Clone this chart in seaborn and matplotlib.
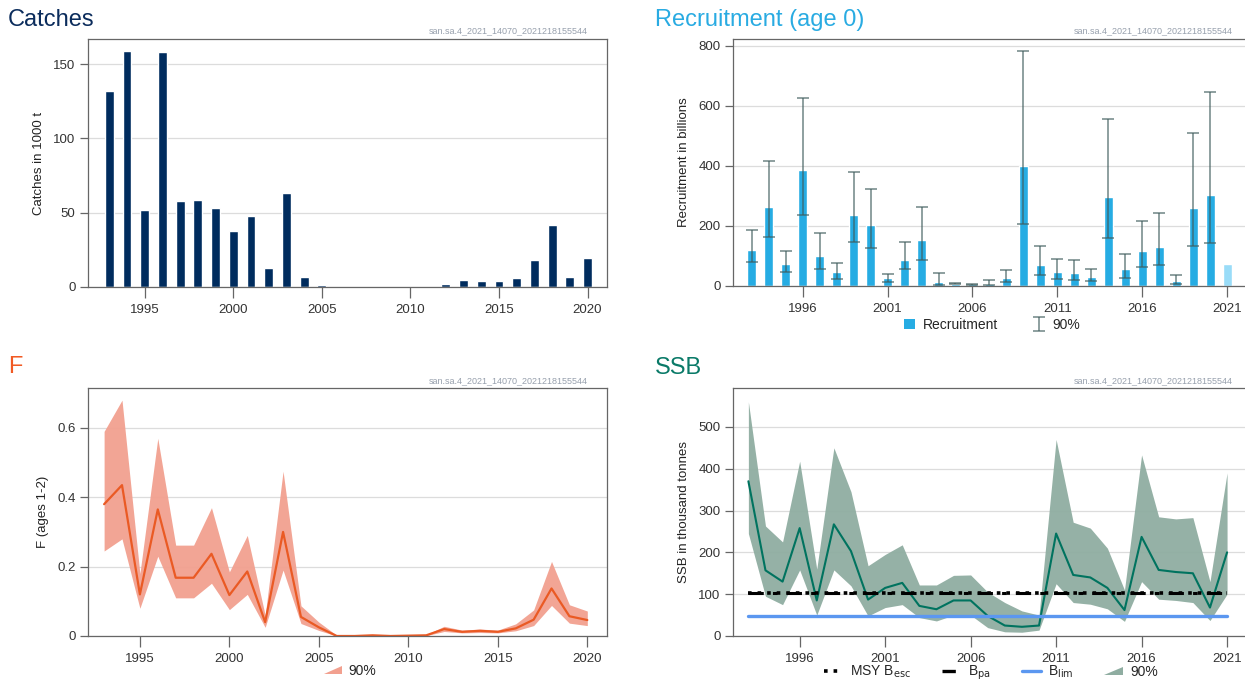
import numpy as np
import pandas as pd
import matplotlib
matplotlib.use('Agg')
import matplotlib.pyplot as plt
from matplotlib.lines import Line2D
from matplotlib.patches import Patch, Polygon
from matplotlib.legend_handler import HandlerPatch
import seaborn as sns

# ---- data ----
years = list(range(1993, 2021))
years_ssb = list(range(1993, 2022))

catches = [132, 159, 52, 158, 58, 58.5, 53, 37.5, 47.5, 12.5, 63.5, 6.5, 1.2,
           0, 0, 0, 0, 0, 0, 2, 5, 4, 4, 6, 18, 42, 6.5, 19.5]

recruit = [120, 262, 72, 385, 100, 45, 236, 202, 25, 88, 153, 12, 8, 5, 8, 26,
           400, 70, 47, 43, 30, 298, 55, 117, 131, 18, 260, 304, 73]
recruit_lo = [80, 163, 45, 237, 57, 22, 148, 127, 12, 55, 88, 3, 5, 2, 3, 12,
              205, 37, 23, 21, 15, 160, 28, 62, 70, 8, 133, 144, np.nan]
recruit_hi = [188, 418, 115, 625, 177, 78, 380, 323, 40, 145, 263, 43, 10, 7, 20, 53,
              783, 133, 90, 85, 58, 555, 108, 218, 244, 37, 510, 648, np.nan]
recruit_kind = ['estimate'] * 28 + ['assumed']

f_mean = [0.38, 0.435, 0.12, 0.365, 0.168, 0.168, 0.237, 0.118, 0.186, 0.04,
          0.30, 0.055, 0.025, 0.0, 0.0, 0.002, 0.0, 0.001, 0.002, 0.02, 0.012,
          0.015, 0.012, 0.022, 0.047, 0.137, 0.057, 0.046]
f_lo = [0.245, 0.28, 0.08, 0.23, 0.11, 0.11, 0.152, 0.076, 0.12, 0.025, 0.19,
        0.036, 0.016, 0.0, 0.0, 0.001, 0.0, 0.0, 0.001, 0.013, 0.009, 0.01,
        0.009, 0.015, 0.03, 0.088, 0.037, 0.03]
f_hi = [0.59, 0.68, 0.18, 0.57, 0.262, 0.262, 0.37, 0.185, 0.29, 0.06, 0.475,
        0.087, 0.04, 0.002, 0.002, 0.004, 0.002, 0.003, 0.004, 0.028, 0.017,
        0.02, 0.017, 0.035, 0.075, 0.215, 0.09, 0.072]

ssb = [370, 157, 130, 258, 85, 267, 203, 87, 115, 127, 72, 64, 85, 85, 48, 25,
       22, 25, 245, 146, 140, 115, 62, 237, 158, 153, 150, 68, 200]
ssb_lo = [245, 95, 75, 158, 50, 158, 120, 48, 68, 75, 44, 36, 50, 50, 20, 10,
          9, 14, 125, 80, 76, 65, 35, 130, 88, 85, 80, 37, 100]
ssb_hi = [560, 263, 225, 418, 160, 450, 345, 168, 195, 218, 122, 122, 145, 146,
          105, 80, 60, 50, 470, 272, 258, 210, 110, 433, 285, 280, 283, 130, 390]
msy_bescapement = 102
b_pa = 102
b_lim = 48

stamp = 'san.sa.4_2021_14070_2021218155544'

sns.set_theme(style='white')
plt.rcParams['font.family'] = ['Liberation Sans', 'DejaVu Sans']
plt.rcParams['axes.edgecolor'] = '#666666'
plt.rcParams['axes.linewidth'] = 0.9

W, H = 1245, 684
fig = plt.figure(figsize=(W / 100, H / 100), dpi=100)


def px_axes(left, top, right, bottom):
    return fig.add_axes([left / W, 1 - bottom / H, (right - left) / W, (bottom - top) / H])


def style_axes(ax, xticks, ylabel):
    ax.set_xticks(xticks)
    ax.set_xticklabels([str(t) for t in xticks])
    ax.yaxis.grid(True, color='#dcdcdc', linewidth=0.9)
    ax.xaxis.grid(False)
    ax.set_axisbelow(True)
    ax.tick_params(axis='both', direction='out', length=6, width=0.9, color='#666666',
                   labelsize=9.5, labelcolor='#333333', bottom=True, left=True, pad=3)
    ax.tick_params(axis='x', length=8, pad=4)
    ax.set_ylabel(ylabel, fontsize=9.5, color='#222222', labelpad=6)
    ax.set_xlabel('')
    for s in ax.spines.values():
        s.set_visible(True)
        s.set_color('#666666')


def stamp_text(x_px, y_px):
    fig.text(x_px / W, 1 - y_px / H, stamp, fontsize=6.5, color='#97a0ad',
             ha='right', va='center')


class TriangleHandler(HandlerPatch):
    # wedge-shaped legend key for the confidence bands
    def create_artists(self, legend, orig_handle, xdescent, ydescent, width, height,
                       fontsize, trans):
        x0, y0 = -xdescent, -ydescent
        tri = Polygon([[x0, y0], [x0 + width, y0], [x0 + width, y0 + height]],
                      closed=True, facecolor=orig_handle.get_facecolor(),
                      edgecolor='none', transform=trans)
        return [tri]


# ---- Catches ----
ax1 = px_axes(88, 39, 607, 287)
sns.barplot(x=years, y=catches, native_scale=True, width=0.5, color='#002c5e',
            saturation=1, ax=ax1)
ax1.set_xlim(1991.8, 2021.1)
ax1.set_ylim(0, 167)
ax1.set_yticks([0, 50, 100, 150])
style_axes(ax1, [1995, 2000, 2005, 2010, 2015, 2020], 'Catches in 1000 t')
fig.text(8 / W, 1 - 20 / H, 'Catches', fontsize=17, color='#0b2c5c', va='center')
stamp_text(588, 31)

# ---- Recruitment ----
ax2 = px_axes(733, 39, 1251, 286)
rdf = pd.DataFrame({'year': years_ssb, 'rec': recruit, 'kind': recruit_kind})
sns.barplot(data=rdf, x='year', y='rec', hue='kind', native_scale=True, dodge=False,
            width=0.55, palette={'estimate': '#26ace3', 'assumed': '#99dcf8'},
            saturation=1, legend=False, ax=ax2)
rec = np.array(recruit)
err = ax2.errorbar(years_ssb, rec, yerr=[rec - np.array(recruit_lo), np.array(recruit_hi) - rec],
                   fmt='none', ecolor='#3f5c5c', elinewidth=1.1, capsize=4, capthick=1.1,
                   alpha=0.75)
ax2.set_xlim(1991.9, 2022.4)
ax2.set_ylim(0, 823)
ax2.set_yticks([0, 200, 400, 600, 800])
style_axes(ax2, [1996, 2001, 2006, 2011, 2016, 2021], 'Recruitment in billions')
fig.text(655 / W, 1 - 20 / H, 'Recruitment (age 0)', fontsize=17, color='#29abe2', va='center')
stamp_text(1233, 31)
fig.legend(handles=[Patch(facecolor='#26ace3', edgecolor='none'), err],
           labels=['Recruitment', '90%'], loc='center', bbox_to_anchor=(992 / W, 1 - 325 / H),
           ncol=2, frameon=False, fontsize=10, handlelength=0.8, handleheight=0.8,
           columnspacing=2.5, handletextpad=0.6)

# ---- F ----
ax3 = px_axes(88, 388, 607, 636)
ax3.fill_between(years, f_lo, f_hi, color='#f2a08f', alpha=0.95, linewidth=0)
sns.lineplot(x=years, y=f_mean, color='#ea5a24', linewidth=1.6, ax=ax3)
ax3.set_xlim(1992.1, 2021.1)
ax3.set_ylim(0, 0.715)
ax3.set_yticks([0, 0.2, 0.4, 0.6])
ax3.set_yticklabels(['0', '0.2', '0.4', '0.6'])
style_axes(ax3, [1995, 2000, 2005, 2010, 2015, 2020], 'F (ages 1-2)')
fig.text(8 / W, 1 - 367 / H, 'F', fontsize=17, color='#f15a24', va='center')
stamp_text(588, 381)
fig.legend(handles=[Patch(facecolor='#f2a08f')], labels=['90%'], loc='center',
           bbox_to_anchor=(350 / W, 1 - 671 / H), frameon=False, fontsize=10,
           handlelength=1.3, handleheight=0.5, handletextpad=0.4,
           handler_map={Patch: TriangleHandler()})

# ---- SSB ----
ax4 = px_axes(733, 388, 1251, 636)
ax4.fill_between(years_ssb, ssb_lo, ssb_hi, color='#8fada1', alpha=0.95, linewidth=0)
sns.lineplot(x=years_ssb, y=ssb, color='#00735f', linewidth=1.5, ax=ax4)
ref_x = [years_ssb[0], years_ssb[-1]]
ax4.plot(ref_x, [msy_bescapement] * 2, color='black', linestyle=':', linewidth=2.6)
ax4.plot(ref_x, [b_pa] * 2, color='black', linestyle=(0, (5, 3, 1.5, 3)), linewidth=2.2)
ax4.plot(ref_x, [b_lim] * 2, color='#5b97f0', linewidth=2.4)
ax4.set_xlim(1992.1, 2022.4)
ax4.set_ylim(0, 593)
ax4.set_yticks([0, 100, 200, 300, 400, 500])
style_axes(ax4, [1996, 2001, 2006, 2011, 2016, 2021], 'SSB in thousand tonnes')
fig.text(655 / W, 1 - 368 / H, 'SSB', fontsize=17, color='#0a7a68', va='center')
stamp_text(1233, 381)
ssb_handles = [Line2D([], [], color='black', linestyle=':', linewidth=2.6),
               Line2D([], [], color='black', linestyle=(0, (4, 3, 1.5, 3)), linewidth=2.4),
               Line2D([], [], color='#5b97f0', linewidth=2.4),
               Patch(facecolor='#8fada1')]
ssb_labels = [r'MSY B$_{\mathrm{esc}}$', r'B$_{\mathrm{pa}}$', r'B$_{\mathrm{lim}}$', '90%']
fig.legend(handles=ssb_handles, labels=ssb_labels, loc='center',
           bbox_to_anchor=(991 / W, 1 - 673 / H), ncol=4, frameon=False, fontsize=10,
           handlelength=1.4, handleheight=0.5, handletextpad=0.5, columnspacing=2.2,
           handler_map={Patch: TriangleHandler()})

fig.savefig('out.png', dpi=100)
